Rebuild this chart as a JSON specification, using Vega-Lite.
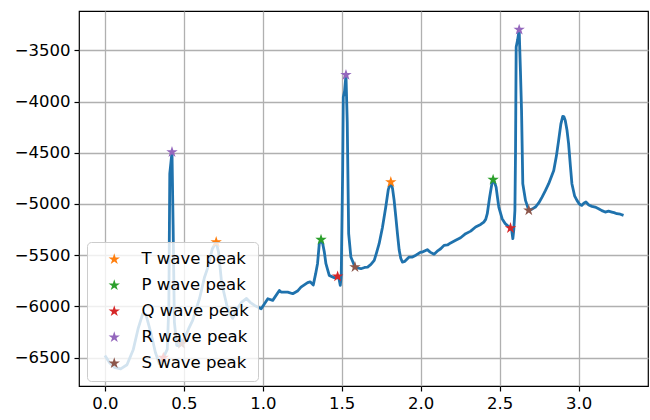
{
  "$schema": "https://vega.github.io/schema/vega-lite/v6.json",
  "width": 569,
  "height": 375,
  "autosize": "none",
  "padding": {"left": 79, "top": 11, "right": 2, "bottom": 34},
  "background": "white",
  "config": {
    "font": "DejaVu Sans",
    "view": {"stroke": "black", "strokeWidth": 1.2},
    "axis": {
      "grid": true,
      "gridColor": "#b0b0b0",
      "gridWidth": 1.3,
      "domain": false,
      "tickColor": "black",
      "tickSize": 5,
      "tickWidth": 1.2,
      "labelFont": "DejaVu Sans",
      "labelFontSize": 16.5,
      "labelColor": "black",
      "labelPadding": 4,
      "title": null
    },
    "legend": {
      "labelFont": "DejaVu Sans",
      "labelFontSize": 16.5,
      "labelColor": "black"
    }
  },
  "datasets": {
    "ecg": [
      {"x": 0.00, "y": -6480}, {"x": 0.03, "y": -6550}, {"x": 0.06, "y": -6595}, {"x": 0.10, "y": -6610},
      {"x": 0.14, "y": -6570}, {"x": 0.18, "y": -6420}, {"x": 0.21, "y": -6220}, {"x": 0.24, "y": -6070},
      {"x": 0.26, "y": -6080}, {"x": 0.29, "y": -6250}, {"x": 0.32, "y": -6450}, {"x": 0.345, "y": -6560},
      {"x": 0.37, "y": -6500}, {"x": 0.395, "y": -6420}, {"x": 0.405, "y": -6000}, {"x": 0.411, "y": -4704},
      {"x": 0.418, "y": -4600}, {"x": 0.425, "y": -4493}, {"x": 0.432, "y": -5200}, {"x": 0.44, "y": -6150},
      {"x": 0.455, "y": -6380}, {"x": 0.47, "y": -6385}, {"x": 0.485, "y": -6365}, {"x": 0.51, "y": -6290},
      {"x": 0.53, "y": -6220}, {"x": 0.556, "y": -6137}, {"x": 0.60, "y": -5920}, {"x": 0.63, "y": -5720},
      {"x": 0.65, "y": -5629}, {"x": 0.68, "y": -5440}, {"x": 0.705, "y": -5372}, {"x": 0.72, "y": -5470},
      {"x": 0.739, "y": -5766}, {"x": 0.777, "y": -6020}, {"x": 0.809, "y": -6117}, {"x": 0.835, "y": -6030},
      {"x": 0.865, "y": -5961}, {"x": 0.897, "y": -5922}, {"x": 0.92, "y": -5960}, {"x": 0.948, "y": -5990},
      {"x": 0.99, "y": -6023}, {"x": 1.032, "y": -5925}, {"x": 1.063, "y": -5941}, {"x": 1.105, "y": -5844},
      {"x": 1.116, "y": -5860}, {"x": 1.158, "y": -5860}, {"x": 1.19, "y": -5876}, {"x": 1.22, "y": -5850},
      {"x": 1.242, "y": -5811}, {"x": 1.284, "y": -5768}, {"x": 1.30, "y": -5760}, {"x": 1.32, "y": -5790},
      {"x": 1.335, "y": -5680}, {"x": 1.347, "y": -5580}, {"x": 1.358, "y": -5388}, {"x": 1.369, "y": -5349},
      {"x": 1.38, "y": -5390}, {"x": 1.39, "y": -5470}, {"x": 1.40, "y": -5583}, {"x": 1.421, "y": -5697},
      {"x": 1.453, "y": -5720}, {"x": 1.474, "y": -5707}, {"x": 1.484, "y": -5740}, {"x": 1.491, "y": -5795},
      {"x": 1.497, "y": -5700}, {"x": 1.506, "y": -4672}, {"x": 1.51, "y": -3956}, {"x": 1.518, "y": -3900},
      {"x": 1.527, "y": -3740}, {"x": 1.535, "y": -4200}, {"x": 1.544, "y": -5290}, {"x": 1.558, "y": -5518},
      {"x": 1.584, "y": -5616}, {"x": 1.60, "y": -5625}, {"x": 1.622, "y": -5632}, {"x": 1.645, "y": -5620},
      {"x": 1.664, "y": -5616}, {"x": 1.685, "y": -5590}, {"x": 1.706, "y": -5551}, {"x": 1.72, "y": -5480},
      {"x": 1.737, "y": -5388}, {"x": 1.758, "y": -5230}, {"x": 1.779, "y": -5030}, {"x": 1.795, "y": -4860},
      {"x": 1.811, "y": -4786}, {"x": 1.822, "y": -4850}, {"x": 1.832, "y": -4965}, {"x": 1.843, "y": -5130},
      {"x": 1.853, "y": -5290}, {"x": 1.864, "y": -5450}, {"x": 1.874, "y": -5530}, {"x": 1.884, "y": -5567},
      {"x": 1.90, "y": -5560}, {"x": 1.927, "y": -5518}, {"x": 1.948, "y": -5518}, {"x": 1.97, "y": -5500},
      {"x": 2.0, "y": -5470}, {"x": 2.011, "y": -5470}, {"x": 2.042, "y": -5446}, {"x": 2.06, "y": -5470},
      {"x": 2.085, "y": -5490}, {"x": 2.11, "y": -5455}, {"x": 2.127, "y": -5437}, {"x": 2.148, "y": -5404},
      {"x": 2.17, "y": -5400}, {"x": 2.19, "y": -5380}, {"x": 2.222, "y": -5355}, {"x": 2.253, "y": -5330},
      {"x": 2.285, "y": -5290}, {"x": 2.317, "y": -5265}, {"x": 2.348, "y": -5225}, {"x": 2.38, "y": -5200},
      {"x": 2.40, "y": -5177}, {"x": 2.412, "y": -5150}, {"x": 2.422, "y": -5095}, {"x": 2.437, "y": -4933},
      {"x": 2.453, "y": -4786}, {"x": 2.459, "y": -4763}, {"x": 2.468, "y": -4790}, {"x": 2.478, "y": -4835},
      {"x": 2.487, "y": -4940}, {"x": 2.495, "y": -5030}, {"x": 2.516, "y": -5144}, {"x": 2.535, "y": -5190},
      {"x": 2.548, "y": -5209}, {"x": 2.569, "y": -5235}, {"x": 2.577, "y": -5260}, {"x": 2.584, "y": -5339},
      {"x": 2.59, "y": -5250}, {"x": 2.597, "y": -5063}, {"x": 2.601, "y": -4477}, {"x": 2.605, "y": -3467},
      {"x": 2.614, "y": -3400}, {"x": 2.624, "y": -3298}, {"x": 2.632, "y": -3700}, {"x": 2.639, "y": -4086},
      {"x": 2.647, "y": -4802}, {"x": 2.664, "y": -4965}, {"x": 2.685, "y": -5062}, {"x": 2.705, "y": -5050},
      {"x": 2.727, "y": -5030}, {"x": 2.748, "y": -4990}, {"x": 2.769, "y": -4933}, {"x": 2.79, "y": -4870},
      {"x": 2.811, "y": -4802}, {"x": 2.843, "y": -4672}, {"x": 2.86, "y": -4530}, {"x": 2.874, "y": -4379},
      {"x": 2.888, "y": -4220}, {"x": 2.9, "y": -4145}, {"x": 2.908, "y": -4150}, {"x": 2.916, "y": -4184},
      {"x": 2.927, "y": -4280}, {"x": 2.937, "y": -4411}, {"x": 2.948, "y": -4620}, {"x": 2.958, "y": -4802},
      {"x": 2.975, "y": -4920}, {"x": 2.99, "y": -4965}, {"x": 3.005, "y": -5000}, {"x": 3.021, "y": -5014},
      {"x": 3.035, "y": -4990}, {"x": 3.047, "y": -4981}, {"x": 3.065, "y": -5010}, {"x": 3.085, "y": -5023},
      {"x": 3.105, "y": -5030}, {"x": 3.127, "y": -5046}, {"x": 3.148, "y": -5065}, {"x": 3.169, "y": -5079},
      {"x": 3.19, "y": -5070}, {"x": 3.211, "y": -5079}, {"x": 3.225, "y": -5085}, {"x": 3.243, "y": -5095},
      {"x": 3.265, "y": -5100}, {"x": 3.285, "y": -5111}
    ],
    "peaks": [
      {"x": 0.705, "y": -5372, "type": "T wave peak"},
      {"x": 1.811, "y": -4786, "type": "T wave peak"},
      {"x": 1.369, "y": -5349, "type": "P wave peak"},
      {"x": 2.459, "y": -4763, "type": "P wave peak"},
      {"x": 0.37, "y": -6500, "type": "Q wave peak"},
      {"x": 1.474, "y": -5707, "type": "Q wave peak"},
      {"x": 2.569, "y": -5235, "type": "Q wave peak"},
      {"x": 0.425, "y": -4493, "type": "R wave peak"},
      {"x": 1.527, "y": -3740, "type": "R wave peak"},
      {"x": 2.624, "y": -3298, "type": "R wave peak"},
      {"x": 0.485, "y": -6365, "type": "S wave peak"},
      {"x": 1.584, "y": -5616, "type": "S wave peak"},
      {"x": 2.685, "y": -5062, "type": "S wave peak"}
    ]
  },
  "layer": [
    {
      "data": {"name": "ecg"},
      "mark": {"type": "line", "color": "#1f72ad", "strokeWidth": 2.8, "strokeJoin": "round"},
      "encoding": {
        "x": {
          "field": "x", "type": "quantitative",
          "scale": {"domain": [-0.164, 3.44], "nice": false, "zero": false},
          "axis": {"orient": "bottom", "values": [0, 0.5, 1, 1.5, 2, 2.5, 3], "format": ".1f"}
        },
        "y": {
          "field": "y", "type": "quantitative",
          "scale": {"domain": [-6777, -3116], "nice": false, "zero": false},
          "axis": {"orient": "left", "values": [-6500, -6000, -5500, -5000, -4500, -4000, -3500], "format": "d"}
        }
      }
    },
    {
      "data": {"name": "peaks"},
      "mark": {"type": "point", "shape": "M0,-1L0.2245,-0.309L0.951,-0.309L0.363,0.118L0.588,0.809L0,0.382L-0.588,0.809L-0.363,0.118L-0.951,-0.309L-0.2245,-0.309Z", "filled": true, "size": 144, "opacity": 1},
      "encoding": {
        "x": {"field": "x", "type": "quantitative"},
        "y": {"field": "y", "type": "quantitative"},
        "color": {
          "field": "type", "type": "nominal",
          "scale": {
            "domain": ["T wave peak", "P wave peak", "Q wave peak", "R wave peak", "S wave peak"],
            "range": ["#ff7f0e", "#2ca02c", "#d62728", "#9467bd", "#8c564b"]
          },
          "legend": {
            "title": null,
            "orient": "none",
            "legendX": 8,
            "legendY": 231,
            "padding": 9,
            "fillColor": "rgba(255,255,255,0.8)",
            "strokeColor": "#cccccc",
            "cornerRadius": 4,
            "symbolType": "M0,-1L0.2245,-0.309L0.951,-0.309L0.363,0.118L0.588,0.809L0,0.382L-0.588,0.809L-0.363,0.118L-0.951,-0.309L-0.2245,-0.309Z",
            "symbolSize": 144,
            "symbolOpacity": 1,
            "symbolOffset": 10,
            "labelOffset": 19,
            "rowPadding": 9
          }
        }
      }
    }
  ]
}
